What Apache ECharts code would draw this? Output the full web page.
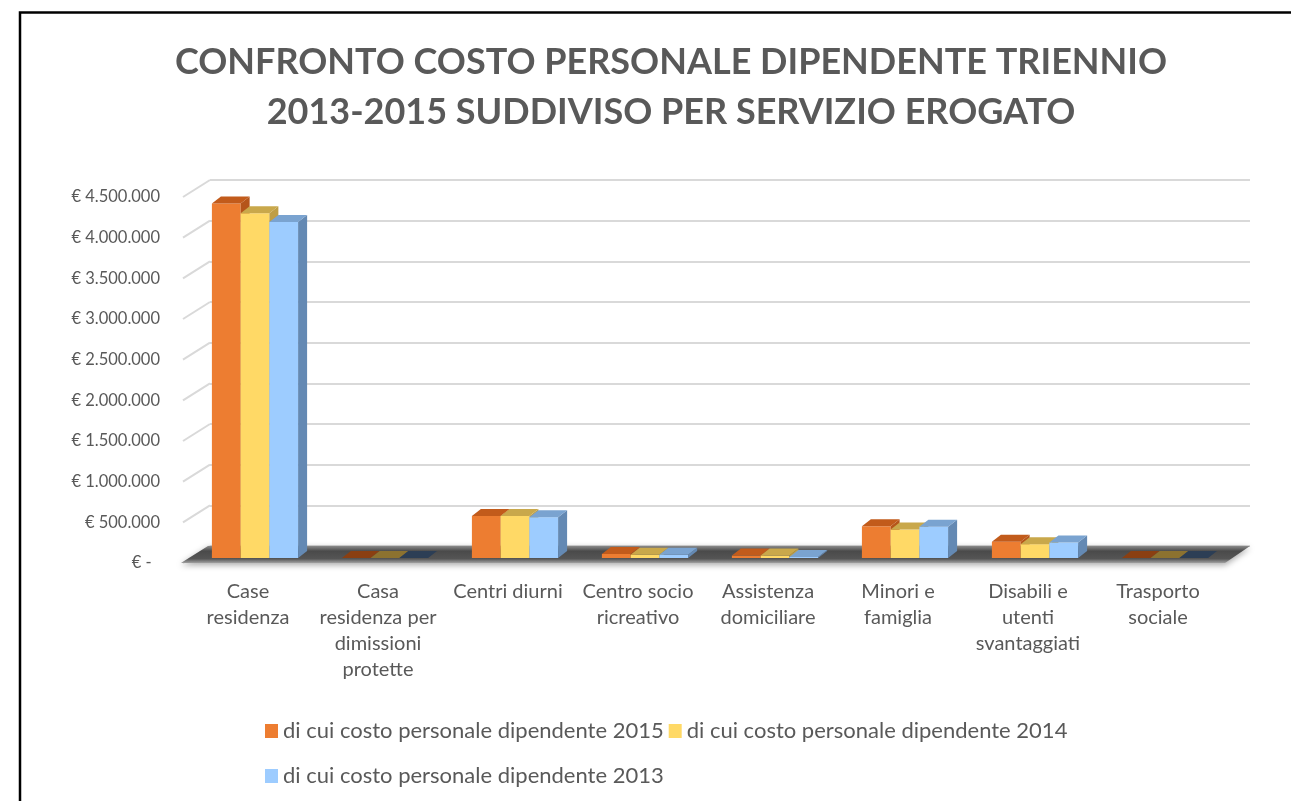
<!DOCTYPE html>
<html>
<head>
<meta charset="utf-8">
<title>Confronto costo personale dipendente</title>
<script src="https://cdn.jsdelivr.net/npm/echarts@6/dist/echarts.min.js"></script>
<style>
  html, body { margin: 0; padding: 0; background: #fff; }
  #chart { width: 1291px; height: 801px; }
</style>
</head>
<body>
<div id="chart"></div>
<script>
// categorie (servizi erogati)
var categories = [
  'Case\nresidenza',
  'Casa\nresidenza per\ndimissioni\nprotette',
  'Centri diurni',
  'Centro socio\nricreativo',
  'Assistenza\ndomiciliare',
  'Minori e\nfamiglia',
  'Disabili e\nutenti\nsvantaggiati',
  'Trasporto\nsociale'
]
// valori (euro)
var costo2015 = [4360000, 0, 516000, 50000, 30000, 390000, 200000, 0]
var costo2014 = [4240000, 0, 516000, 40000, 30000, 350000, 170000, 0]
var costo2013 = [4130000, 0, 500000, 40000, 12000, 385000, 190000, 0]
var seriesNames = [
  'di cui costo personale dipendente 2015',
  'di cui costo personale dipendente 2014',
  'di cui costo personale dipendente 2013'
]
var yTicks = [0, 500000, 1000000, 1500000, 2000000, 2500000, 3000000, 3500000, 4000000, 4500000]

var textGrey = '#595959'
var gridGrey = '#d9d9d9'
// profondita' della parete di fondo e delle barre
var WALL_DX = 27, WALL_DY = -17
var BAR_SHIFT_X = 7, BAR_SHIFT_Y = -5
var BAR_DX = 9, BAR_DY = -7

var palette = [
  { front: '#ED7D31', top: '#C25B1B', side: '#B5551A', zero: '#8A3F12' },
  { front: '#FFD966', top: '#C9A84B', side: '#BF9E45', zero: '#8C7230' },
  { front: '#9DCCFF', top: '#7AA3D0', side: '#6489B3', zero: '#2C3E55' }
]

function euro(v) {
  if (v === 0) return '€ -  '
  return '€ ' + String(v).replace(/\B(?=(\d{3})+(?!\d))/g, '.')
}

function barRenderer(idx) {
  return function (params, api) {
    var cat = api.value(0)
    var val = api.value(1)
    var base = api.coord([cat, 0])
    var top = api.coord([cat, val])
    var band = api.size([1, 0])[0]
    var w = band * 0.221
    var x = base[0] + BAR_SHIFT_X + (idx - 1.5) * w
    var y0 = base[1] + BAR_SHIFT_Y
    var y1 = top[1] + BAR_SHIFT_Y
    var c = palette[idx]
    var children = []
    if (val > 0) {
      children.push({
        type: 'rect',
        shape: { x: x, y: y1, width: w, height: y0 - y1 },
        style: { fill: c.front }
      })
      children.push({
        type: 'polygon',
        shape: { points: [[x + w, y1], [x + w + BAR_DX, y1 + BAR_DY], [x + w + BAR_DX, y0 + BAR_DY], [x + w, y0]] },
        style: { fill: c.side }
      })
    }
    children.push({
      type: 'polygon',
      shape: { points: [[x, y1], [x + w, y1], [x + w + BAR_DX, y1 + BAR_DY], [x + BAR_DX, y1 + BAR_DY]] },
      style: { fill: val > 0 ? c.top : c.zero }
    })
    return { type: 'group', children: children }
  }
}

function barSeries(name, values, idx) {
  return {
    name: name,
    type: 'custom',
    xAxisIndex: 0,
    yAxisIndex: 0,
    z: 5,
    itemStyle: { color: palette[idx].front },
    renderItem: barRenderer(idx),
    data: values.map(function (v, i) { return [i, v] })
  }
}

var chart = echarts.init(document.getElementById('chart'))

chart.setOption({
  backgroundColor: '#ffffff',
  animation: false,
  title: {
    text: 'CONFRONTO COSTO PERSONALE DIPENDENTE TRIENNIO\n2013-2015 SUDDIVISO PER SERVIZIO EROGATO',
    left: 666,
    top: 32,
    textAlign: 'center',
    textStyle: {
      fontFamily: 'Lato',
      fontWeight: 'bold',
      fontSize: 36,
      lineHeight: 50,
      color: textGrey
    }
  },
  legend: [{
    data: [seriesNames[0], seriesNames[1]],
    left: 260,
    top: 715,
    icon: 'rect',
    itemWidth: 13,
    itemHeight: 14,
    itemGap: 5,
    textStyle: { fontFamily: 'Lato', fontSize: 22, color: textGrey }
  }, {
    data: [seriesNames[2]],
    left: 260,
    top: 760,
    icon: 'rect',
    itemWidth: 13,
    itemHeight: 14,
    textStyle: { fontFamily: 'Lato', fontSize: 22, color: textGrey }
  }],
  grid: [
    // piano frontale (assi ed etichette)
    { left: 183, right: 68, top: 197, bottom: 238 },
    // parete di fondo (linee della griglia)
    { left: 183 + WALL_DX, right: 68 - 27, top: 197 + WALL_DY, bottom: 238 - WALL_DY }
  ],
  xAxis: [{
    type: 'category',
    gridIndex: 0,
    data: categories,
    axisLine: { show: false },
    axisTick: { show: false },
    axisLabel: {
      interval: 0,
      margin: 16,
      fontFamily: 'Lato',
      fontSize: 20,
      lineHeight: 26,
      color: textGrey
    }
  }, {
    type: 'value',
    gridIndex: 1,
    show: false
  }],
  yAxis: [{
    type: 'value',
    gridIndex: 0,
    min: 0,
    max: 4500000,
    interval: 500000,
    axisLine: { show: false },
    axisTick: { show: false },
    splitLine: { show: false },
    axisLabel: {
      margin: 23,
      fontFamily: 'Lato',
      fontSize: 16.5,
      color: textGrey,
      formatter: euro
    }
  }, {
    type: 'value',
    gridIndex: 1,
    min: 0,
    max: 4500000,
    interval: 500000,
    axisLine: { show: false },
    axisTick: { show: false },
    axisLabel: { show: false },
    splitLine: { lineStyle: { color: gridGrey, width: 2 } }
  }],
  graphic: [{
    type: 'polyline',
    shape: { points: [[20, 801], [20, 12.5], [1291, 12.5]] },
    style: { stroke: '#000', lineWidth: 2.5, fill: null },
    z: 100
  }],
  series: [{
    // diagonali dal piano frontale alla parete
    type: 'custom',
    xAxisIndex: 0,
    yAxisIndex: 0,
    z: 1,
    silent: true,
    renderItem: function (params, api) {
      var p = api.coord([0, api.value(1)])
      var x = params.coordSys.x
      return {
        type: 'line',
        shape: { x1: x, y1: p[1], x2: x + WALL_DX, y2: p[1] + WALL_DY },
        style: { stroke: gridGrey, lineWidth: 2 }
      }
    },
    data: yTicks.map(function (v) { return [0, v] })
  }, {
    // pavimento
    type: 'custom',
    xAxisIndex: 0,
    yAxisIndex: 0,
    z: 2,
    silent: true,
    renderItem: function (params, api) {
      var cs = params.coordSys
      var yb = api.coord([0, 0])[1]
      var xl = cs.x - 2, xr = cs.x + cs.width + 2
      return {
        type: 'polygon',
        shape: { points: [[xl, yb], [xr, yb], [xr + WALL_DX - 2, yb + WALL_DY], [xl + WALL_DX, yb + WALL_DY]] },
        style: {
          fill: new echarts.graphic.LinearGradient(0, 0, 0, 1, [
            { offset: 0, color: '#8a8a8a' },
            { offset: 0.3, color: '#4a4a4a' },
            { offset: 0.75, color: '#555555' },
            { offset: 1, color: '#a0a0a0' }
          ]),
          shadowBlur: 6,
          shadowColor: 'rgba(0,0,0,0.35)',
          shadowOffsetY: 2
        }
      }
    },
    data: [[0, 0]]
  },
  barSeries(seriesNames[0], costo2015, 0),
  barSeries(seriesNames[1], costo2014, 1),
  barSeries(seriesNames[2], costo2013, 2)
  ]
})
</script>
</body>
</html>
